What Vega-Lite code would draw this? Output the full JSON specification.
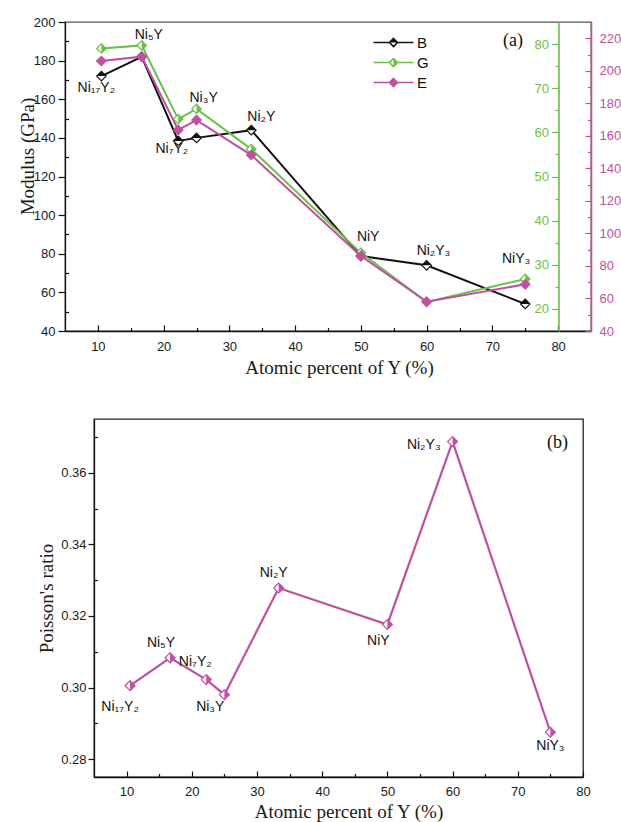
{
  "$schema": "https://vega.github.io/schema/vega-lite/v6.json",
  "autosize": {"type": "none"},
  "padding": {"left": 65, "top": 22, "right": 556, "bottom": 800},
  "background": "white",
  "datasets": {
    "phases": [
      {"compound": "Ni₁₇Y₂", "at": 10.53, "B": 172.0, "G": 79.0, "E": 206.0, "nu": 0.3005},
      {"compound": "Ni₅Y", "at": 16.67, "B": 182.0, "G": 79.7, "E": 208.7, "nu": 0.3083},
      {"compound": "Ni₇Y₂", "at": 22.22, "B": 138.4, "G": 63.0, "E": 163.6, "nu": 0.3022},
      {"compound": "Ni₃Y", "at": 25.0, "B": 140.0, "G": 65.3, "E": 169.7, "nu": 0.298},
      {"compound": "Ni₂Y", "at": 33.33, "B": 144.0, "G": 56.2, "E": 148.2, "nu": 0.3278},
      {"compound": "NiY", "at": 50.0, "B": 78.8, "G": 32.7, "E": 86.1, "nu": 0.3176},
      {"compound": "Ni₂Y₃", "at": 60.0, "B": 74.0, "G": 21.6, "E": 58.0, "nu": 0.3687},
      {"compound": "NiY₃", "at": 75.0, "B": 54.0, "G": 26.8, "E": 68.7, "nu": 0.2875}
    ]
  },
  "config": {
    "axis": {
      "grid": false,
      "labelFont": "Liberation Sans",
      "labelFontSize": 13,
      "labelColor": "#1a1a1a",
      "titleFont": "Liberation Serif",
      "titleFontSize": 19,
      "titleFontWeight": "normal",
      "titleColor": "#1a1a1a",
      "domainColor": "#111",
      "domainWidth": 1.3,
      "tickColor": "#111",
      "tickWidth": 1.2,
      "labelFlush": false,
      "labelOverlap": false
    },
    "point": {"opacity": 1},
    "text": {"font": "Liberation Sans", "fontSize": 14, "fontWeight": "normal", "color": "#111"}
  },
  "spacing": 88,
  "bounds": "flush",
  "vconcat": [
    {
      "width": 526,
      "height": 309,
      "data": {"name": "phases"},
      "view": {"stroke": "#555", "strokeWidth": 1.3},
      "encoding": {
        "x": {"field": "at", "type": "quantitative", "scale": {"domain": [5, 85], "nice": false, "zero": false}, "axis": null}
      },
      "layer": [
        {
          "encoding": {
            "x": {"field": "at", "type": "quantitative", "axis": {
              "orient": "bottom", "values": [10, 20, 30, 40, 50, 60, 70, 80], "tickSize": -6, "labelPadding": 15,
              "title": "Atomic percent of Y (%)", "titleX": 274, "titleY": 42, "titleAlign": "center", "titleBaseline": "alphabetic"}},
            "y": {"field": "B", "type": "quantitative", "scale": {"domain": [40, 200], "nice": false, "zero": false}, "axis": {
              "orient": "left", "values": [40, 60, 80, 100, 120, 140, 160, 180, 200], "tickSize": 7, "labelPadding": 3,
              "title": "Modulus (GPa)", "titleX": -31.5, "titleY": 134, "titleAngle": -90, "titleAlign": "center", "titleBaseline": "alphabetic"}}
          },
          "layer": [
            {
              "mark": {"type": "line", "strokeWidth": 2},
              "encoding": {
                "stroke": {
                  "datum": "B",
                  "scale": {"domain": ["B", "G", "E"], "range": ["#111111", "#6cbf47", "#c0509f"]},
                  "legend": {
                    "orient": "none", "legendX": 321, "legendY": 13, "title": null, "direction": "vertical", "padding": 0,
                    "symbolType": "M-5,0H-1M1,0H5M0,-1L1,0L0,1L-1,0Z", "symbolSize": 64, "symbolStrokeWidth": 1.6,
                    "symbolFillColor": "white", "symbolOpacity": 1,
                    "labelFont": "Liberation Sans", "labelFontSize": 15, "labelColor": "#111", "labelOffset": 16, "rowPadding": 4,
                    "zindex": 1,
                    "encode": {"symbols": {"update": {"fill": {"value": "white"}}}}
                  }
                }
              }
            },
            {
              "mark": {"type": "point", "shape": "diamond", "filled": true, "fill": "white", "size": 90, "strokeWidth": 1.2},
              "encoding": {"stroke": {"datum": "B"}}
            },
            {
              "mark": {"type": "point", "filled": true, "size": 90, "strokeWidth": 0},
              "encoding": {
                "shape": {
                  "datum": "b",
                  "scale": {"domain": ["b", "g", "e"], "range": ["M-1,0L0,-1L1,0Z", "M0,-1L1,0L0,1Z", "M0,-1L1,0L0,1L-1,0Z"]},
                  "legend": {
                    "orient": "none", "legendX": 321, "legendY": 13, "title": null, "direction": "vertical", "padding": 0,
                    "symbolSize": 64, "symbolStrokeWidth": 0, "symbolOpacity": 1,
                    "labelFont": "Liberation Sans", "labelFontSize": 15, "labelExpr": "''", "labelOffset": 16, "rowPadding": 4,
                    "zindex": 2
                  }
                },
                "fill": {
                  "datum": "b",
                  "scale": {"domain": ["b", "g", "e"], "range": ["#111111", "#6cbf47", "#c0509f"]},
                  "legend": {
                    "orient": "none", "legendX": 321, "legendY": 13, "title": null, "direction": "vertical", "padding": 0,
                    "symbolSize": 64, "symbolStrokeWidth": 0, "symbolOpacity": 1,
                    "labelFont": "Liberation Sans", "labelFontSize": 15, "labelExpr": "''", "labelOffset": 16, "rowPadding": 4,
                    "zindex": 2
                  }
                }
              }
            }
          ]
        },
        {
          "mark": {"type": "point", "opacity": 0},
          "encoding": {
            "x": {"field": "at", "type": "quantitative", "axis": {
              "orient": "bottom", "values": [15, 25, 35, 45, 55, 65, 75], "tickSize": -3.5, "labels": false, "domain": false, "title": null}},
            "y": {"field": "B", "type": "quantitative", "scale": {"domain": [40, 200], "nice": false, "zero": false}, "axis": {
              "orient": "left", "values": [50, 70, 90, 110, 130, 150, 170, 190], "tickSize": -3.5, "labels": false, "domain": false, "title": null}}
          }
        },
        {
          "encoding": {
            "y": {"field": "G", "type": "quantitative", "scale": {"domain": [15, 85], "nice": false, "zero": false}, "axis": {
              "orient": "left", "offset": -493.5, "values": [20, 30, 40, 50, 60, 70, 80], "tickSize": 7, "labelPadding": 3, "title": null,
              "domainColor": "#6cbf47", "domainWidth": 1.6, "tickColor": "#6cbf47", "labelColor": "#6cbf47"}}
          },
          "layer": [
            {"mark": {"type": "line", "strokeWidth": 2}, "encoding": {"stroke": {"datum": "G"}}},
            {"mark": {"type": "point", "shape": "diamond", "filled": true, "fill": "white", "size": 90, "strokeWidth": 1.2}, "encoding": {"stroke": {"datum": "G"}}},
            {"mark": {"type": "point", "filled": true, "size": 90, "strokeWidth": 0}, "encoding": {"shape": {"datum": "g"}, "fill": {"datum": "g"}}}
          ]
        },
        {
          "mark": {"type": "point", "opacity": 0},
          "encoding": {
            "y": {"field": "G", "type": "quantitative", "scale": {"domain": [15, 85], "nice": false, "zero": false}, "axis": {
              "orient": "left", "offset": -493.5, "values": [25, 35, 45, 55, 65, 75], "tickSize": 3.5, "labels": false, "domain": false, "title": null,
              "tickColor": "#6cbf47"}}
          }
        },
        {
          "encoding": {
            "y": {"field": "E", "type": "quantitative", "scale": {"domain": [40, 230], "nice": false, "zero": false}, "axis": {
              "orient": "right", "values": [40, 60, 80, 100, 120, 140, 160, 180, 200, 220], "tickSize": -6, "labelPadding": 14, "title": null,
              "domainColor": "#c0509f", "domainWidth": 1.6, "tickColor": "#c0509f", "labelColor": "#c0509f"}}
          },
          "layer": [
            {"mark": {"type": "line", "strokeWidth": 2}, "encoding": {"stroke": {"datum": "E"}}},
            {"mark": {"type": "point", "shape": "diamond", "filled": true, "fill": "white", "size": 90, "strokeWidth": 1.2}, "encoding": {"stroke": {"datum": "E"}}},
            {"mark": {"type": "point", "filled": true, "size": 90, "strokeWidth": 0}, "encoding": {"shape": {"datum": "e"}, "fill": {"datum": "e"}}}
          ]
        },
        {
          "mark": {"type": "point", "opacity": 0},
          "encoding": {
            "y": {"field": "E", "type": "quantitative", "scale": {"domain": [40, 230], "nice": false, "zero": false}, "axis": {
              "orient": "right", "values": [50, 70, 90, 110, 130, 150, 170, 190, 210], "tickSize": -3.5, "labels": false, "domain": false, "title": null,
              "tickColor": "#c0509f"}}
          }
        },
        {
          "transform": [{"filter": {"field": "compound", "equal": "NiY"}}],
          "mark": {"type": "text", "text": "(a)", "align": "right", "baseline": "alphabetic", "font": "Liberation Serif", "fontSize": 18, "fontWeight": "normal"},
          "encoding": {
            "x": {"datum": 74.66},
            "y": {"datum": 187.6, "scale": {"domain": [40, 200], "nice": false, "zero": false}, "axis": null}
          }
        },
        {
          "transform": [{"filter": {"field": "compound", "equal": "Ni₁₇Y₂"}}],
          "mark": {"type": "text", "align": "center", "baseline": "alphabetic", "dx": -5, "dy": 16},
          "encoding": {"y": {"field": "B", "type": "quantitative", "scale": {"domain": [40, 200], "nice": false, "zero": false}, "axis": null}, "text": {"field": "compound"}}
        },
        {
          "transform": [{"filter": {"field": "compound", "oneOf": ["Ni₅Y", "Ni₃Y"]}}],
          "mark": {"type": "text", "align": "left", "baseline": "alphabetic", "dx": -7, "dy": -6.5},
          "encoding": {"y": {"field": "G", "type": "quantitative", "scale": {"domain": [15, 85], "nice": false, "zero": false}, "axis": null}, "text": {"field": "compound"}}
        },
        {
          "transform": [{"filter": {"field": "compound", "equal": "Ni₇Y₂"}}],
          "mark": {"type": "text", "align": "right", "baseline": "alphabetic", "dx": 10, "dy": 12},
          "encoding": {"y": {"field": "B", "type": "quantitative", "scale": {"domain": [40, 200], "nice": false, "zero": false}, "axis": null}, "text": {"field": "compound"}}
        },
        {
          "transform": [{"filter": {"field": "compound", "equal": "Ni₂Y"}}],
          "mark": {"type": "text", "align": "left", "baseline": "alphabetic", "dx": -4, "dy": -9},
          "encoding": {"y": {"field": "B", "type": "quantitative", "scale": {"domain": [40, 200], "nice": false, "zero": false}, "axis": null}, "text": {"field": "compound"}}
        },
        {
          "transform": [{"filter": {"field": "compound", "equal": "Ni₂Y₃"}}],
          "mark": {"type": "text", "align": "left", "baseline": "alphabetic", "dx": -10, "dy": -10},
          "encoding": {"y": {"field": "B", "type": "quantitative", "scale": {"domain": [40, 200], "nice": false, "zero": false}, "axis": null}, "text": {"field": "compound"}}
        },
        {
          "transform": [{"filter": {"field": "compound", "equal": "NiY"}}],
          "mark": {"type": "text", "align": "left", "baseline": "alphabetic", "dx": -4, "dy": -15},
          "encoding": {"y": {"field": "B", "type": "quantitative", "scale": {"domain": [40, 200], "nice": false, "zero": false}, "axis": null}, "text": {"field": "compound"}}
        },
        {
          "transform": [{"filter": {"field": "compound", "equal": "NiY₃"}}],
          "mark": {"type": "text", "align": "right", "baseline": "alphabetic", "dx": 5, "dy": -16},
          "encoding": {"y": {"field": "G", "type": "quantitative", "scale": {"domain": [15, 85], "nice": false, "zero": false}, "axis": null}, "text": {"field": "compound"}}
        }
      ],
      "resolve": {"scale": {"y": "independent"}, "axis": {"x": "independent"}}
    },
    {
      "hconcat": [
        {
          "width": 29,
          "height": 358,
          "data": {"values": [{}]},
          "mark": {"type": "point", "opacity": 0},
          "view": {"stroke": null}
        },
        {
          "width": 489,
          "height": 358,
          "data": {"name": "phases"},
          "view": {"stroke": "#222", "strokeWidth": 1.3},
          "encoding": {
            "x": {"field": "at", "type": "quantitative", "scale": {"domain": [5, 80], "nice": false, "zero": false}, "axis": null},
            "y": {"field": "nu", "type": "quantitative", "scale": {"domain": [0.275, 0.375], "nice": false, "zero": false}, "axis": null}
          },
          "layer": [
            {
              "mark": {"type": "line", "stroke": "#c0509f", "strokeWidth": 2.2},
              "encoding": {
                "x": {"field": "at", "type": "quantitative", "axis": {
                  "orient": "bottom", "values": [10, 20, 30, 40, 50, 60, 70, 80], "tickSize": -6, "labelPadding": 14,
                  "title": "Atomic percent of Y (%)", "titleX": 254.5, "titleY": 40.6, "titleAlign": "center", "titleBaseline": "alphabetic"}},
                "y": {"field": "nu", "type": "quantitative", "axis": {
                  "orient": "left", "values": [0.28, 0.30, 0.32, 0.34, 0.36], "format": ".2f", "tickSize": 6, "labelPadding": 2,
                  "title": "Poisson's ratio", "titleX": -42, "titleY": 179, "titleAngle": -90, "titleAlign": "center", "titleBaseline": "alphabetic"}}
              }
            },
            {
              "mark": {"type": "point", "opacity": 0},
              "encoding": {
                "x": {"field": "at", "type": "quantitative", "axis": {
                  "orient": "bottom", "values": [15, 25, 35, 45, 55, 65, 75], "tickSize": -3.5, "labels": false, "domain": false, "title": null}},
                "y": {"field": "nu", "type": "quantitative", "axis": {
                  "orient": "left", "values": [0.29, 0.31, 0.33, 0.35, 0.37], "tickSize": -3.5, "labels": false, "domain": false, "title": null}}
              }
            },
            {"mark": {"type": "point", "shape": "diamond", "filled": true, "fill": "white", "stroke": "#c0509f", "size": 100, "strokeWidth": 1.2}},
            {"mark": {"type": "point", "shape": "M0,-1L1,0L0,1Z", "filled": true, "fill": "#c0509f", "size": 100, "strokeWidth": 0}},
            {
              "transform": [{"filter": {"field": "compound", "equal": "NiY"}}],
              "mark": {"type": "text", "text": "(b)", "align": "right", "baseline": "alphabetic", "font": "Liberation Serif", "fontSize": 18, "fontWeight": "normal"},
              "encoding": {"x": {"datum": 77.7}, "y": {"datum": 0.3669}}
            },
            {
              "transform": [{"filter": {"field": "compound", "equal": "Ni₁₇Y₂"}}],
              "mark": {"type": "text", "align": "center", "baseline": "alphabetic", "dx": -10, "dy": 25},
              "encoding": {"text": {"field": "compound"}}
            },
            {
              "transform": [{"filter": {"field": "compound", "equal": "Ni₅Y"}}],
              "mark": {"type": "text", "align": "right", "baseline": "alphabetic", "dx": 5, "dy": -11},
              "encoding": {"text": {"field": "compound"}}
            },
            {
              "transform": [{"filter": {"field": "compound", "equal": "Ni₇Y₂"}}],
              "mark": {"type": "text", "align": "center", "baseline": "alphabetic", "dx": -11, "dy": -14},
              "encoding": {"text": {"field": "compound"}}
            },
            {
              "transform": [{"filter": {"field": "compound", "equal": "Ni₃Y"}}],
              "mark": {"type": "text", "align": "right", "baseline": "alphabetic", "dx": 0, "dy": 16},
              "encoding": {"text": {"field": "compound"}}
            },
            {
              "transform": [{"filter": {"field": "compound", "equal": "Ni₂Y"}}],
              "mark": {"type": "text", "align": "center", "baseline": "alphabetic", "dx": -5, "dy": -11},
              "encoding": {"text": {"field": "compound"}}
            },
            {
              "transform": [{"filter": {"field": "compound", "equal": "NiY"}}],
              "mark": {"type": "text", "align": "center", "baseline": "alphabetic", "dx": -9, "dy": 21},
              "encoding": {"text": {"field": "compound"}}
            },
            {
              "transform": [{"filter": {"field": "compound", "equal": "Ni₂Y₃"}}],
              "mark": {"type": "text", "align": "right", "baseline": "alphabetic", "dx": -12, "dy": 7},
              "encoding": {"text": {"field": "compound"}}
            },
            {
              "transform": [{"filter": {"field": "compound", "equal": "NiY₃"}}],
              "mark": {"type": "text", "align": "center", "baseline": "alphabetic", "dx": 0, "dy": 18},
              "encoding": {"text": {"field": "compound"}}
            }
          ],
          "resolve": {"axis": {"x": "independent", "y": "independent"}}
        }
      ],
      "spacing": 0,
      "bounds": "flush"
    }
  ]
}
